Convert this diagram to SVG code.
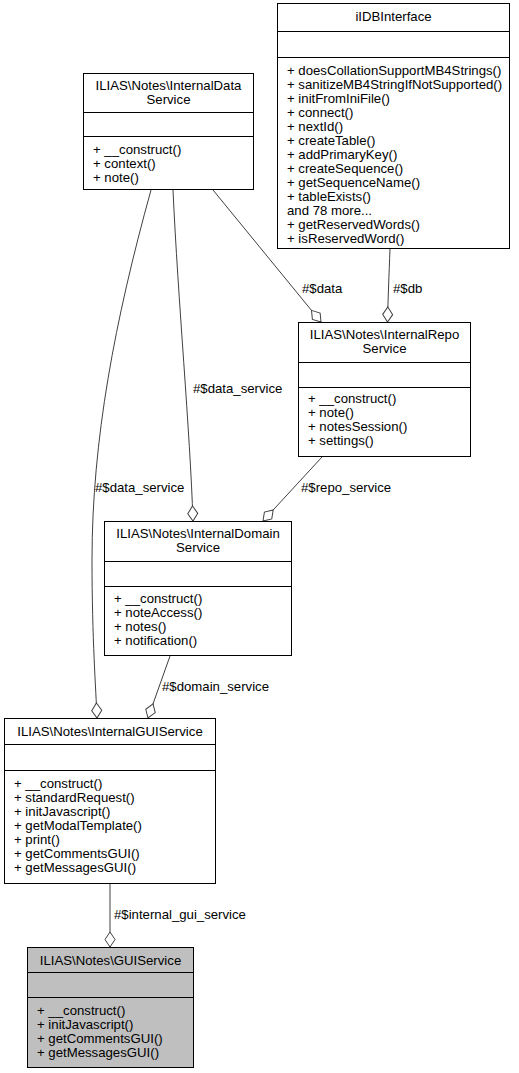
<svg xmlns="http://www.w3.org/2000/svg" width="519" height="1073" viewBox="0 0 519 1073">
<style>
text{font-family:"Liberation Sans",Arial,Helvetica,sans-serif;font-size:13.2px;fill:#000}
.t{text-anchor:middle}
.box{fill:#fff;stroke:#000;stroke-width:1}
.cur{fill:#bfbfbf}
.sep{stroke:#000;stroke-width:1}
.e{fill:none;stroke:#404040;stroke-width:1;marker-end:url(#dia)}
</style>
<defs>
<marker id="dia" markerUnits="userSpaceOnUse" markerWidth="17" markerHeight="12" viewBox="0 0 17 12" refX="16" refY="6" orient="auto">
<path d="M1,6 L8.5,1 L16,6 L8.5,11 Z" fill="#fff" stroke="#404040" stroke-width="1"/>
</marker>
</defs>
<rect width="519" height="1073" fill="#fff"/>
<g id="edges">
<path class="e" d="M390,249 C389,275 388,300 387.5,322"/>
<text x="393" y="292.7">#$db</text>
<path class="e" d="M213,190 L321,322"/>
<text x="302" y="292.7">#$data</text>
<path class="e" d="M173,190 C178,300 190,430 193,521"/>
<text x="193" y="392.7">#$data_service</text>
<path class="e" d="M322,457 L263,521"/>
<text x="301" y="491.7">#$repo_service</text>
<path class="e" d="M151,190 C115,320 92,440 92,560 C92,640 96,690 97,718"/>
<text x="95" y="491.7">#$data_service</text>
<path class="e" d="M170,656 L148,718"/>
<text x="162" y="690.7">#$domain_service</text>
<path class="e" d="M110,884 L110,947"/>
<text x="114" y="918.7">#$internal_gui_service</text>
</g>
<g id="iIDBInterface">
<rect class="box" x="277.5" y="3.5" width="232" height="245"/>
<line class="sep" x1="277.5" y1="31.5" x2="509.5" y2="31.5"/>
<line class="sep" x1="277.5" y1="57.5" x2="509.5" y2="57.5"/>
<text class="t" x="393.5" y="20.7">iIDBInterface</text>
<text x="287" y="74.7">+ doesCollationSupportMB4Strings()</text>
<text x="287" y="88.7">+ sanitizeMB4StringIfNotSupported()</text>
<text x="287" y="102.7">+ initFromIniFile()</text>
<text x="287" y="116.7">+ connect()</text>
<text x="287" y="130.7">+ nextId()</text>
<text x="287" y="144.7">+ createTable()</text>
<text x="287" y="158.7">+ addPrimaryKey()</text>
<text x="287" y="172.7">+ createSequence()</text>
<text x="287" y="186.7">+ getSequenceName()</text>
<text x="287" y="200.7">+ tableExists()</text>
<text x="287" y="214.7">and 78 more...</text>
<text x="287" y="228.7">+ getReservedWords()</text>
<text x="287" y="242.7">+ isReservedWord()</text>
</g>
<g id="InternalDataService">
<rect class="box" x="83.5" y="73.5" width="170" height="116"/>
<line class="sep" x1="83.5" y1="112.5" x2="253.5" y2="112.5"/>
<line class="sep" x1="83.5" y1="136.5" x2="253.5" y2="136.5"/>
<text class="t" x="168.5" y="89.7">ILIAS\Notes\InternalData</text>
<text class="t" x="168.5" y="103.7">Service</text>
<text x="93" y="153.7">+ __construct()</text>
<text x="93" y="167.7">+ context()</text>
<text x="93" y="181.7">+ note()</text>
</g>
<g id="InternalRepoService">
<rect class="box" x="298.5" y="322.5" width="172" height="134"/>
<line class="sep" x1="298.5" y1="362.5" x2="470.5" y2="362.5"/>
<line class="sep" x1="298.5" y1="387.5" x2="470.5" y2="387.5"/>
<text class="t" x="384.5" y="338.7">ILIAS\Notes\InternalRepo</text>
<text class="t" x="384.5" y="352.7">Service</text>
<text x="308" y="402.7">+ __construct()</text>
<text x="308" y="416.7">+ note()</text>
<text x="308" y="430.7">+ notesSession()</text>
<text x="308" y="444.7">+ settings()</text>
</g>
<g id="InternalDomainService">
<rect class="box" x="104.5" y="521.5" width="187" height="134"/>
<line class="sep" x1="104.5" y1="561.5" x2="291.5" y2="561.5"/>
<line class="sep" x1="104.5" y1="586.5" x2="291.5" y2="586.5"/>
<text class="t" x="198" y="537.7">ILIAS\Notes\InternalDomain</text>
<text class="t" x="198" y="551.7">Service</text>
<text x="114" y="602.7">+ __construct()</text>
<text x="114" y="616.7">+ noteAccess()</text>
<text x="114" y="630.7">+ notes()</text>
<text x="114" y="644.7">+ notification()</text>
</g>
<g id="InternalGUIService">
<rect class="box" x="4.5" y="718.5" width="211" height="165"/>
<line class="sep" x1="4.5" y1="744.5" x2="215.5" y2="744.5"/>
<line class="sep" x1="4.5" y1="770.5" x2="215.5" y2="770.5"/>
<text class="t" x="110" y="735.7">ILIAS\Notes\InternalGUIService</text>
<text x="14" y="787.7">+ __construct()</text>
<text x="14" y="801.7">+ standardRequest()</text>
<text x="14" y="815.7">+ initJavascript()</text>
<text x="14" y="829.7">+ getModalTemplate()</text>
<text x="14" y="843.7">+ print()</text>
<text x="14" y="857.7">+ getCommentsGUI()</text>
<text x="14" y="871.7">+ getMessagesGUI()</text>
</g>
<g id="GUIService">
<rect class="box cur" x="27.5" y="947.5" width="166" height="120"/>
<line class="sep" x1="27.5" y1="972.5" x2="193.5" y2="972.5"/>
<line class="sep" x1="27.5" y1="997.5" x2="193.5" y2="997.5"/>
<text class="t" x="110.5" y="964.7">ILIAS\Notes\GUIService</text>
<text x="37" y="1014.7">+ __construct()</text>
<text x="37" y="1028.7">+ initJavascript()</text>
<text x="37" y="1042.7">+ getCommentsGUI()</text>
<text x="37" y="1056.7">+ getMessagesGUI()</text>
</g>
</svg>
